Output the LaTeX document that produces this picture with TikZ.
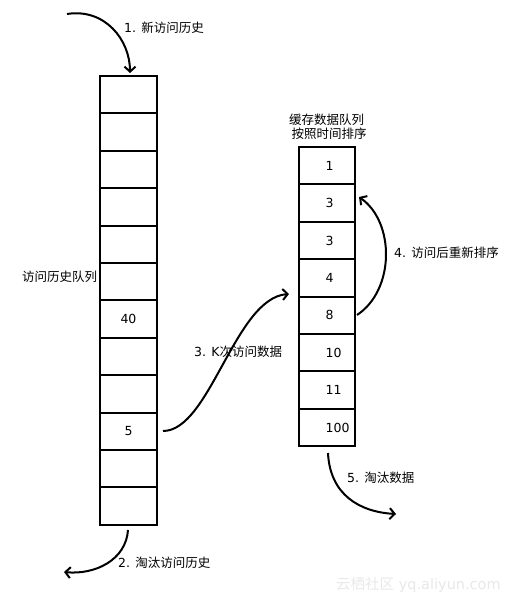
\documentclass[tikz,border=0pt]{standalone}
\usepackage{fontspec}
\setmainfont{DejaVu Sans}
\newfontfamily\cjk{Noto Sans CJK SC}
\usetikzlibrary{arrows.meta}
\begin{document}
\begin{tikzpicture}[x=1pt,y=-1pt,
  cell/.style={draw,line width=2pt,minimum width=57pt,minimum height=37.4pt,inner sep=0pt,outer sep=0pt},
  rcell/.style={draw,line width=2pt,minimum width=56pt,minimum height=37.4pt,inner sep=0pt,outer sep=0pt},
  lbl/.style={anchor=west,inner sep=0pt,font=\fontsize{12.5}{14}\selectfont},
  num/.style={inner sep=0pt,font=\fontsize{12.5}{14}\selectfont},
  arr/.style={line width=2pt,-{Straight Barb[length=5pt,width=11pt]}}]
\useasboundingbox (0,0) rectangle (515,604);
% left column
\foreach \i in {1,...,12}{
  \node[cell] (L\i) at (128.5,{76+37.4*(\i-0.5)}) {};
}
\node[num] (n40) at (L7) {40};
\node[num] (n5) at (L10) {5};
% right column
\foreach \i in {1,...,8}{
  \node[rcell] (R\i) at (327,{147+37.4*(\i-0.5)}) {};
}
\foreach \i/\v in {1/1,2/3,3/3,4/4,5/8,6/10,7/11,8/100}{
  \node[num,anchor=west] (rv\i) at (325.5,{147+37.4*(\i-0.5)}) {\v};
}
% labels
\node[lbl] (t1) at (124,28) {1. {\cjk 新访问历史}};
\node[lbl] (tq) at (22,277) {\cjk 访问历史队列};
\node[lbl] (t3) at (194,352) {3. K{\cjk 次访问数据}};
\node[lbl] (tc1) at (289,120) {\cjk 缓存数据队列};
\node[lbl] (tc2) at (291.5,133.5) {\cjk 按照时间排序};
\node[lbl] (t4) at (394,253) {4. {\cjk 访问后重新排序}};
\node[lbl] (t5) at (347,478) {5. {\cjk 淘汰数据}};
\node[lbl] (t2) at (118,563) {2. {\cjk 淘汰访问历史}};
\node[anchor=west,inner sep=0pt,text=gray!18,font=\fontsize{14.5}{17}\selectfont] (wm) at (336,585) {{\cjk 云栖社区} yq.aliyun.com};
% connectors
\coordinate (a1s) at (67,14);
\coordinate (a1e) at (130,73);
\draw[arr] (a1s) .. controls (105,8) and (130,40) .. (a1e);
\coordinate (a2s) at (128,530);
\coordinate (a2e) at (64,572);
\draw[arr] (a2s) .. controls (126,560) and (95,575) .. (a2e);
\coordinate (a3s) at (163,431);
\coordinate (a3e) at (289,294);
\draw[arr] (a3s) .. controls (210,431) and (235,298) .. (a3e);
\coordinate (a4s) at (357,315);
\coordinate (a4e) at (359,197);
\draw[arr] (a4s) .. controls (395,290) and (395,222) .. (a4e);
\coordinate (a5s) at (328,453);
\coordinate (a5e) at (396,514);
\draw[arr] (a5s) .. controls (330,495) and (360,512) .. (a5e);
\end{tikzpicture}
\end{document}
